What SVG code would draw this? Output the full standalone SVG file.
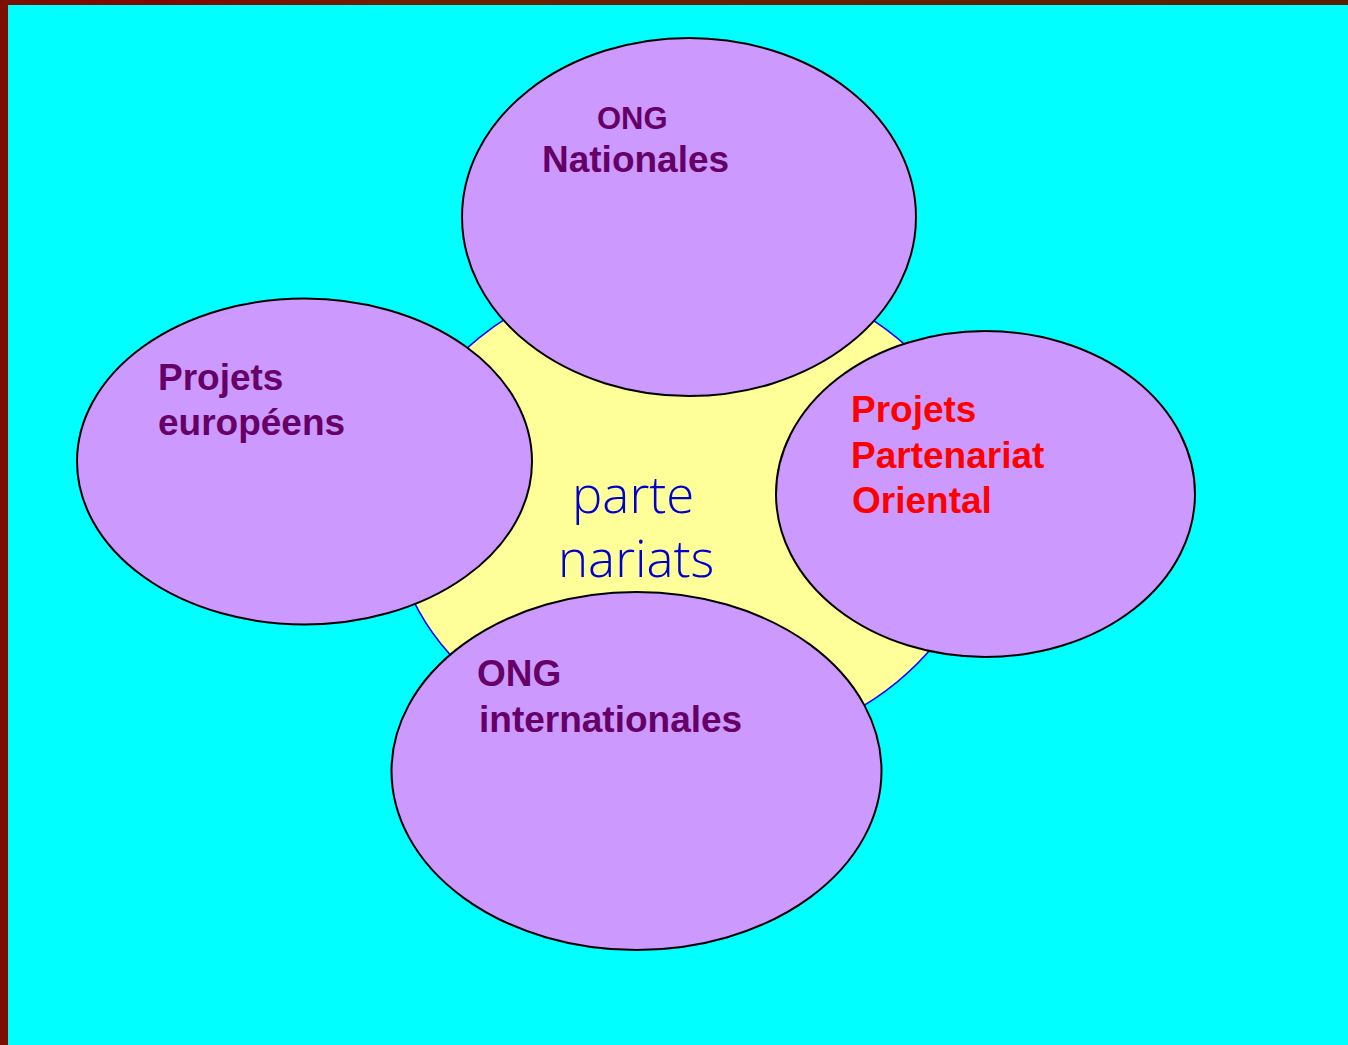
<svg xmlns="http://www.w3.org/2000/svg" width="1348" height="1045" viewBox="0 0 1348 1045">
  <defs>
    <linearGradient id="frame" x1="0" y1="0" x2="1" y2="0">
      <stop offset="0" stop-color="#7A1000"/>
      <stop offset="0.12" stop-color="#800600"/>
      <stop offset="0.3" stop-color="#6E2000"/>
      <stop offset="1" stop-color="#582000"/>
    </linearGradient>
  </defs>
  <style>
    .bubble { fill: #CC99FF; stroke: #000000; stroke-width: 2; }
    .lbl { font-family: "Liberation Sans", Arial, sans-serif; font-weight: bold; font-size: 37px; fill: #660066; }
    .small { font-size: 31px; }
    .red { fill: #FF0000; }
    .center { font-family: "Open Sans", "DejaVu Sans", sans-serif; font-weight: 300; font-size: 51px; fill: #0000CC; }
  </style>
  <rect x="0" y="0" width="1348" height="1045" fill="url(#frame)"/>
  <rect x="8" y="5" width="1340" height="1040" fill="#00FFFF"/>

  <g id="connectors"></g>

  <g id="partenariats">
    <ellipse cx="688" cy="510" rx="296" ry="243" fill="#FFFF99" stroke="#0000FF" stroke-width="1.5"/>
  </g>

  <g id="ong-nationales">
    <ellipse class="bubble" cx="689" cy="217" rx="227" ry="179"/>
    <text class="lbl small" x="597" y="129">ONG</text>
    <text class="lbl" x="542" y="172">Nationales</text>
  </g>

  <g id="projets-europeens">
    <ellipse class="bubble" cx="304.5" cy="461.5" rx="227.5" ry="163"/>
    <text class="lbl" x="158" y="390">Projets</text>
    <text class="lbl" x="158" y="435">européens</text>
  </g>

  <g id="projets-partenariat-oriental">
    <ellipse class="bubble" cx="985.5" cy="494" rx="209.5" ry="163"/>
    <text class="lbl red" x="851" y="422">Projets</text>
    <text class="lbl red" x="851" y="467.5">Partenariat</text>
    <text class="lbl red" x="852" y="513">Oriental</text>
  </g>

  <g id="ong-internationales">
    <ellipse class="bubble" cx="636.5" cy="771" rx="245" ry="179"/>
    <text class="lbl" x="477" y="686">ONG</text>
    <text class="lbl" x="479" y="732">internationales</text>
  </g>

  <g id="center-label">
    <text class="center" x="572" y="513">parte</text>
    <text class="center" x="558" y="577">nariats</text>
  </g>
</svg>
